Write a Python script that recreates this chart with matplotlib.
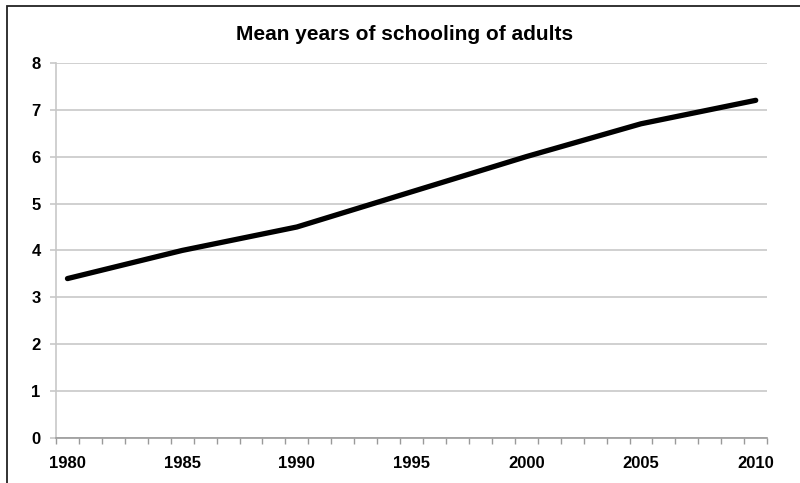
import matplotlib.pyplot as plt
from matplotlib.patches import Rectangle
from matplotlib.ticker import FixedLocator

plt.rcParams['font.family'] = ['Liberation Sans', 'DejaVu Sans']

years = [1980, 1985, 1990, 1995, 2000, 2005, 2010]
schooling = [3.4, 4.0, 4.5, 5.25, 6.0, 6.7, 7.2]
y_ticks = [0, 1, 2, 3, 4, 5, 6, 7, 8]

fig = plt.figure(figsize=(8, 4.83), dpi=100)
ax = fig.add_axes([0.07, 0.093, 0.889, 0.777])

# outer frame of the chart object
fig.patches.append(Rectangle((7 / 800, -0.1), 1.2, 1 - 6 / 483 + 0.1,
                             transform=fig.transFigure, fill=False,
                             edgecolor='#222222', linewidth=1.3))

ax.plot(years, schooling, color='black', linewidth=3.8, solid_capstyle='round',
        solid_joinstyle='round', zorder=3)

# category axis: each year is a slot, ticks sit between slots
ax.set_xlim(years[0] - 0.5, years[-1] + 0.5)
ax.set_ylim(0, 8)
ax.set_yticks(y_ticks)
ax.set_xticks(years)
ax.xaxis.set_minor_locator(FixedLocator(
    [y + 0.5 for y in range(years[0] - 1, years[-1] + 1)]))
ax.grid(axis='y', color='#c8c8c8', linewidth=1.2)
ax.set_axisbelow(True)

for side in ['top', 'right']:
    ax.spines[side].set_visible(False)
ax.spines['left'].set_color('#c8c8c8')
ax.spines['bottom'].set_color('#9a9a9a')
ax.spines['left'].set_linewidth(1.2)
ax.spines['bottom'].set_linewidth(1.2)

ax.tick_params(axis='y', length=4, color='#c8c8c8', width=1.2, pad=7,
               labelsize=12)
ax.tick_params(axis='x', which='major', length=0, pad=13, labelsize=12)
ax.tick_params(axis='x', which='minor', length=4, color='#9a9a9a', width=1,
               direction='out')
for lbl in ax.get_xticklabels() + ax.get_yticklabels():
    lbl.set_fontweight('bold')

fig.text(0.506, 1 - 35 / 483, 'Mean years of schooling of adults',
         ha='center', va='center', fontsize=15, fontweight='bold')

fig.savefig('out.png', dpi=100)
